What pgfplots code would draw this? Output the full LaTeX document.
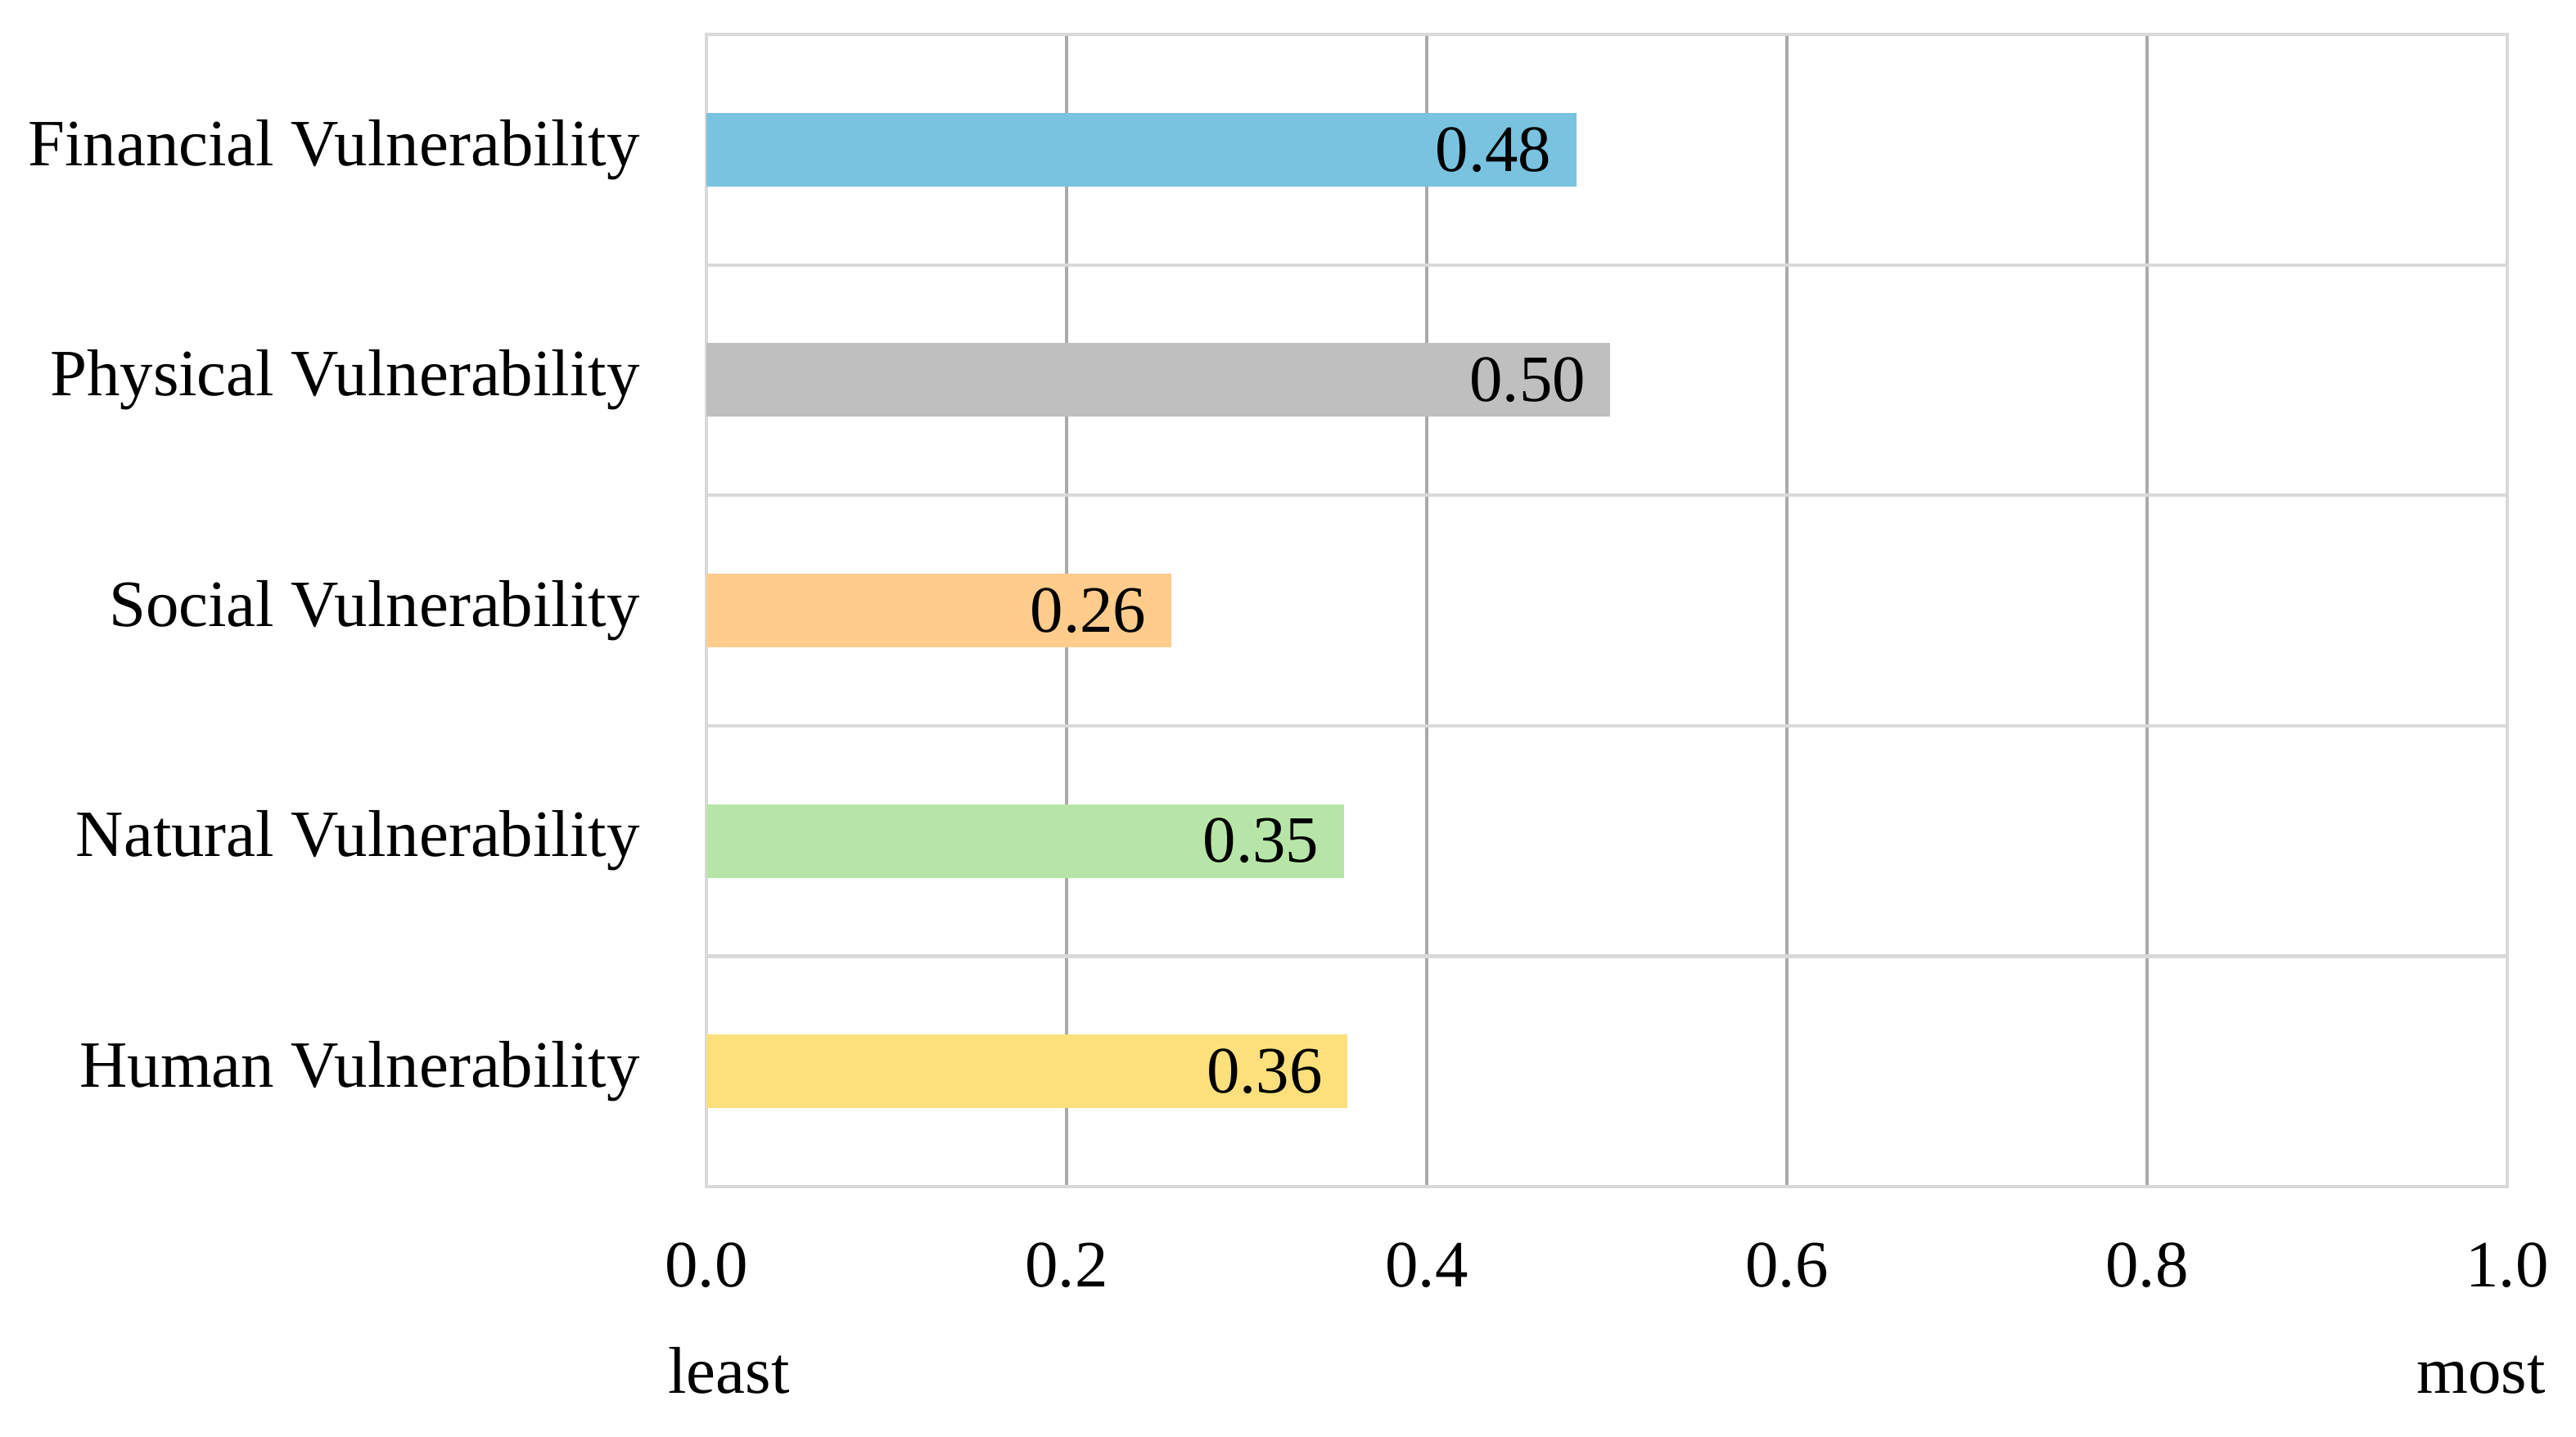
\documentclass[border=0pt]{standalone}
\usepackage{fontspec}
\setmainfont{Liberation Serif}
\usepackage{pgfplots}
\pgfplotsset{compat=1.18}
\definecolor{cBlue}{RGB}{122,195,224}
\definecolor{cGray}{RGB}{191,191,191}
\definecolor{cOrange}{RGB}{255,204,140}
\definecolor{cGreen}{RGB}{183,229,167}
\definecolor{cYellow}{RGB}{252,224,124}
\definecolor{gridV}{RGB}{170,170,170}
\definecolor{gridH}{RGB}{217,217,217}
\begin{document}
\fontsize{11.5}{14}\selectfont
\begin{tikzpicture}
\useasboundingbox (-4.315,-1.525) rectangle (11.42,7.25);
\begin{axis}[
  at={(0,0)}, anchor=south west,
  scale only axis,
  width=11.0cm, height=7.04cm,
  xmin=0, xmax=1, ymin=-0.5, ymax=4.5,
  xbar, bar width=0.45cm, bar shift=0pt,
  /pgf/number format/assume math mode=true,
  xtick={0.2,0.4,0.6,0.8,1.0},
  extra x ticks={0},
  extra x tick style={grid=none},
  xticklabel={\pgfmathprintnumber[fixed,fixed zerofill,precision=1]{\tick}},
  xticklabel style={anchor=base, inner sep=0pt, yshift=-0.61cm},
  xmajorgrids,
  major x grid style={gridV, line width=0.55pt},
  ytick={0,1,2,3,4},
  yticklabels={Human Vulnerability, Natural Vulnerability, Social Vulnerability, Physical Vulnerability, Financial Vulnerability},
  yticklabel style={anchor=east, inner sep=0pt, xshift=-0.4cm},
  minor ytick={0.5,1.5,2.5,3.5},
  yminorgrids,
  minor y grid style={gridH, line width=0.6pt},
  major tick length=0pt, minor tick length=0pt,
  axis line style={gridH, line width=0.6pt},
  tick style={draw=none},
  nodes near coords={\pgfmathprintnumber[fixed,fixed zerofill,precision=2]{\pgfplotspointmeta}},
  nodes near coords style={anchor=east, inner sep=0pt, xshift=-0.145cm, text=black},
  point meta=x,
  clip=false,
]
\addplot[fill=cBlue, draw=none] coordinates {(0.483,4)};
\addplot[fill=cGray, draw=none] coordinates {(0.502,3)};
\addplot[fill=cOrange, draw=none] coordinates {(0.258,2)};
\addplot[fill=cGreen, draw=none] coordinates {(0.354,1)};
\addplot[fill=cYellow, draw=none] coordinates {(0.356,0)};
\node[anchor=base west, inner sep=0pt] at ([xshift=-0.24cm, yshift=-1.26cm]rel axis cs:0,0) {least};
\node[anchor=base east, inner sep=0pt] at ([xshift=0.24cm, yshift=-1.26cm]rel axis cs:1,0) {most};
\end{axis}
\end{tikzpicture}
\end{document}
